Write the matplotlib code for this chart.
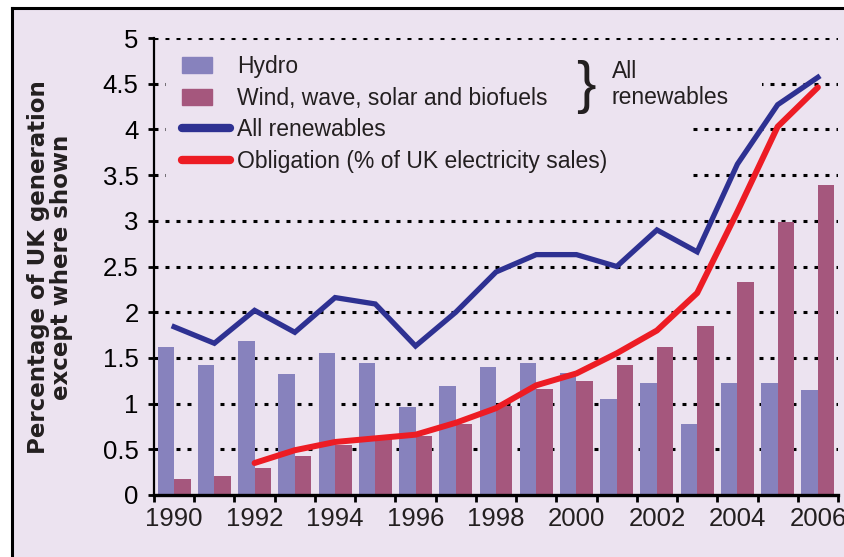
import matplotlib
matplotlib.use("Agg")
import matplotlib.pyplot as plt
import matplotlib.patches as mpatches
from matplotlib.lines import Line2D
from matplotlib.legend_handler import HandlerPatch
import numpy as np

# Values
years = list(range(1990, 2007))
hydro = [1.62, 1.42, 1.69, 1.32, 1.55, 1.44, 0.96, 1.19, 1.40, 1.44, 1.34,
         1.05, 1.22, 0.78, 1.22, 1.22, 1.15]
wind = [0.17, 0.21, 0.29, 0.43, 0.55, 0.63, 0.65, 0.78, 0.97, 1.16, 1.25,
        1.42, 1.62, 1.85, 2.33, 2.99, 3.39]
all_renewables = [1.84, 1.66, 2.02, 1.78, 2.16, 2.09, 1.63, 2.0, 2.44, 2.63,
                  2.63, 2.50, 2.90, 2.66, 3.62, 4.27, 4.57]
obligation_years = list(range(1992, 2007))
obligation = [0.35, 0.49, 0.58, 0.62, 0.66, 0.79, 0.95, 1.20, 1.33, 1.55,
              1.80, 2.21, 3.10, 4.03, 4.46]
tick_years = list(range(1990, 2007, 2))

BG = "#ECE3F0"
HYDRO_C = "#8782BD"
WIND_C = "#A5577D"
BLUE_C = "#2E3192"
RED_C = "#ED1C24"
TXT = "#231F20"

plt.rcParams["font.family"] = ["Liberation Sans", "DejaVu Sans"]

fig = plt.figure(figsize=(8.45, 5.57), dpi=100)
fig.patch.set_facecolor("white")
fig.patches.append(mpatches.Rectangle((12 / 845, 0), 1, 1 - 8 / 557,
                                      transform=fig.transFigure,
                                      facecolor=BG, edgecolor="none", zorder=-10))
fig.lines.append(Line2D([12 / 845, 1], [1 - 8 / 557, 1 - 8 / 557],
                        transform=fig.transFigure, color="black", lw=2.2))
fig.lines.append(Line2D([12 / 845, 12 / 845], [0, 1 - 8 / 557],
                        transform=fig.transFigure, color="black", lw=2.2))

ax = fig.add_axes([154 / 845, 62 / 557, (838 - 154) / 845, (519 - 62) / 557])
ax.set_facecolor("none")

x = np.arange(len(years))
bw = 0.41

# dotted grid lines
for g in np.arange(0.5, 5.01, 0.5):
    ax.axhline(g, color="black", lw=2.2, ls=(0, (1.3, 2.3)), zorder=0.5)

# hide grid behind legend / note
ax.add_patch(mpatches.Rectangle((-0.2, 3.27), 13.0, 1.0, facecolor=BG,
                                edgecolor="none", zorder=0.8))
ax.add_patch(mpatches.Rectangle((-0.2, 4.27), 14.8, 0.45, facecolor=BG,
                                edgecolor="none", zorder=0.8))

ax.bar(x - bw / 2, hydro, width=bw, color=HYDRO_C, zorder=2)
ax.bar(x + bw / 2, wind, width=bw, color=WIND_C, zorder=2)

ax.plot(x, all_renewables, color=BLUE_C, lw=3.8, zorder=3,
        solid_joinstyle="miter")
ox = [years.index(y) for y in obligation_years]
ax.plot(ox, obligation, color=RED_C, lw=4.3, zorder=4, solid_capstyle="round")

ax.set_xlim(-0.5, len(years) - 0.5)
ax.set_ylim(0, 5)

for s in ["top", "right"]:
    ax.spines[s].set_visible(False)
ax.spines["left"].set_linewidth(1.6)
ax.spines["bottom"].set_linewidth(2.4)
ax.spines["left"].set_zorder(5)
ax.spines["bottom"].set_zorder(5)

yt = np.arange(0, 5.01, 0.5)
ax.set_yticks(yt)
ax.set_yticklabels([f"{v:g}" for v in yt], fontsize=18.5, color=TXT)
ax.tick_params(axis="y", length=4, width=2, pad=7, colors="black")

ax.set_xticks([years.index(y) for y in tick_years])
ax.set_xticklabels([str(y) for y in tick_years], fontsize=18.5, color=TXT)
ax.set_xticks(np.arange(-0.5, len(years), 1), minor=True)
ax.tick_params(axis="x", which="major", length=0, pad=9)
ax.tick_params(axis="x", which="minor", length=5, width=2, direction="out")

fig.text(50 / 845, 0.52, "Percentage of UK generation\nexcept where shown",
         rotation=90, ha="center", va="center", fontsize=16.5,
         fontweight="bold", family="DejaVu Sans", linespacing=0.95,
         color=TXT)


def small_rect(legend, orig_handle, xdescent, ydescent, width, height, fontsize):
    return mpatches.Rectangle((-xdescent, -ydescent), width * 0.62, height)


handles = [mpatches.Patch(color=HYDRO_C), mpatches.Patch(color=WIND_C),
           Line2D([], [], color=BLUE_C, lw=6, solid_capstyle="round"),
           Line2D([], [], color=RED_C, lw=6, solid_capstyle="round")]
labels = ["Hydro", "Wind, wave, solar and biofuels", "All renewables",
          "Obligation (% of UK electricity sales)"]
leg = ax.legend(handles, labels, loc="upper left",
                bbox_to_anchor=(182 / 845, 1 - 55 / 557),
                bbox_transform=fig.transFigure, frameon=False,
                fontsize=16.5, handlelength=2.1, handletextpad=0.3,
                labelspacing=0.38, borderpad=0, borderaxespad=0,
                handler_map={mpatches.Patch: HandlerPatch(patch_func=small_rect)})
for t in leg.get_texts():
    t.set_color(TXT)

fig.text(586 / 845, 1 - 87 / 557, "}", fontsize=42, ha="center", va="center",
         color=TXT)
fig.text(612 / 845, 1 - 60 / 557, "All\nrenewables", fontsize=16.5,
         ha="left", va="top", linespacing=1.15, color=TXT)

fig.savefig("out.png", dpi=100, facecolor=fig.get_facecolor())
